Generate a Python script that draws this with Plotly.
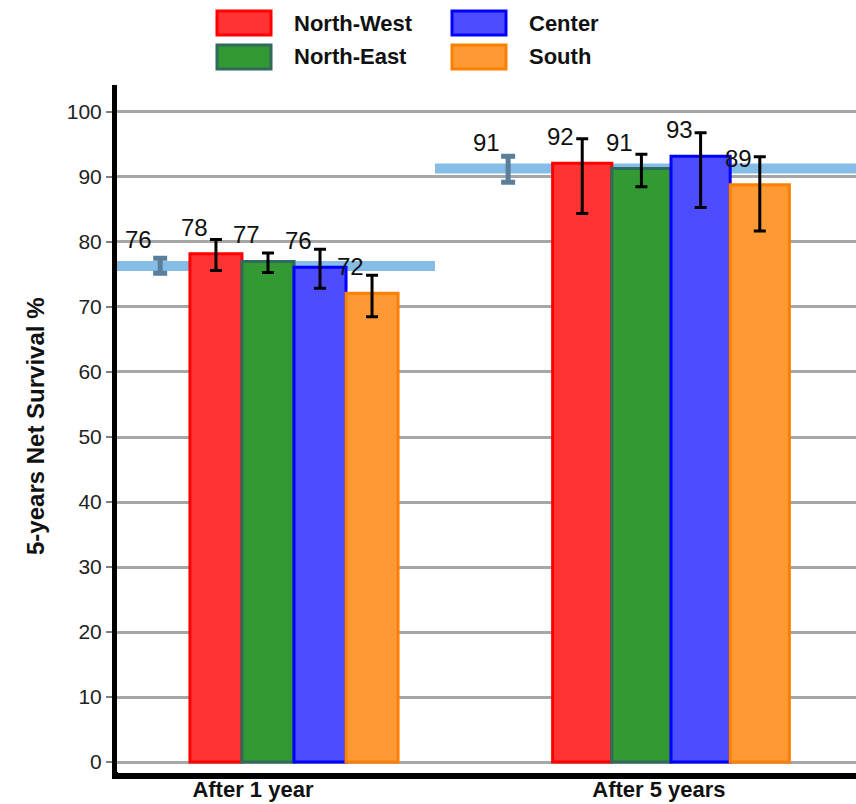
import plotly.graph_objects as go

# ---------------- data ----------------
CATEGORIES = ["After 1 year", "After 5 years"]
REGIONS = ["North-West", "North-East", "Center", "South"]

NW = [78.2, 92.1]
NW_LO = [75.6, 84.4]
NW_HI = [80.4, 95.9]

NE = [77.0, 91.3]
NE_LO = [75.3, 88.5]
NE_HI = [78.3, 93.5]

CE = [76.1, 93.2]
CE_LO = [72.9, 85.3]
CE_HI = [78.9, 96.8]

SO = [72.1, 88.8]
SO_LO = [68.5, 81.7]
SO_HI = [74.9, 93.1]

OVERALL = [76.3, 91.3]
OVERALL_LO = [75.2, 89.2]
OVERALL_HI = [77.5, 93.2]

Y_TICKS = [0, 10, 20, 30, 40, 50, 60, 70, 80, 90, 100]

# ---------------- styles / geometry ----------------
FILL = ["#ff3333", "#339933", "#4d4dff", "#ff9933"]
EDGE = ["#ff0000", "#2e6b5c", "#0000ff", "#ff8000"]
BAND_COLOR = "#85bde6"
WHISKER_COLOR = "#5b7f9b"
GRID = "#a6a6a6"
FONT = "Liberation Sans"

W, H = 856, 804
ML, MR, MT, MB = 117, 0, 85, 31
PLOT_W = W - ML - MR
PLOT_H = H - MT - MB
X_RANGE = [-0.4695, 1.4907]
Y_RANGE = [-1.69, 104.15]
BAR_W = [0.138, 0.157]          # bar width per group
WHISKER_OFF = [-0.355, -0.432]  # overall whisker offset from group centre
BAND_SPLIT = 0.374              # where the overall band changes level
TICK_OFF = [-0.109, -0.032]     # category label offset from group centre

series = [
    (NW, NW_LO, NW_HI),
    (NE, NE_LO, NE_HI),
    (CE, CE_LO, CE_HI),
    (SO, SO_LO, SO_HI),
]
groups = list(range(len(CATEGORIES)))


def px_x(px):
    return (px - ML) / PLOT_W


def px_y(py):
    return (H - MB - py) / PLOT_H


fig = go.Figure()
annotations = []
shapes = []

# overall band (behind bars, above grid)
band_x = [(X_RANGE[0], BAND_SPLIT), (BAND_SPLIT, X_RANGE[1])]
for g, v in zip(groups, OVERALL):
    shapes.append(dict(type="line", xref="x", yref="y", layer="between",
                       x0=band_x[g][0], x1=band_x[g][1], y0=v, y1=v,
                       line=dict(color=BAND_COLOR, width=10)))

LABEL_FONT = dict(family=FONT, size=24, color="#111")

# bars
for i, (name, (vals, lo, hi)) in enumerate(zip(REGIONS, series)):
    offsets = [-2 * w + i * w for w in BAR_W]
    fig.add_trace(go.Bar(
        name=name, x=groups, y=vals, width=BAR_W, offset=offsets,
        marker=dict(color=FILL[i], line=dict(color=EDGE[i], width=3)),
        error_y=dict(type="data", symmetric=False,
                     array=[h - v for h, v in zip(hi, vals)],
                     arrayminus=[v - l for v, l in zip(vals, lo)],
                     color="black", thickness=3, width=6),
        showlegend=False, hoverinfo="y",
    ))
    for g, v, off, w in zip(groups, vals, offsets, BAR_W):
        annotations.append(dict(
            x=g + off + w / 2, y=v, xref="x", yref="y", text=str(round(v)),
            showarrow=False, xanchor="right", yanchor="bottom",
            xshift=-6, yshift=11, font=LABEL_FONT))

# overall whisker
wx = [g + o for g, o in zip(groups, WHISKER_OFF)]
fig.add_trace(go.Scatter(
    x=wx, y=OVERALL, mode="markers", marker=dict(opacity=0, size=2),
    error_y=dict(type="data", symmetric=False,
                 array=[h - v for h, v in zip(OVERALL_HI, OVERALL)],
                 arrayminus=[v - l for v, l in zip(OVERALL, OVERALL_LO)],
                 color=WHISKER_COLOR, thickness=5, width=7),
    showlegend=False, hoverinfo="y",
))
for x, v in zip(wx, OVERALL):
    annotations.append(dict(
        x=x, y=v, xref="x", yref="y", text=str(round(v)),
        showarrow=False, xanchor="right", yanchor="bottom",
        xshift=-6, yshift=11, font=LABEL_FONT))

# manual legend (2 x 2)
legend_pos = [(217, 11), (217, 45), (452, 11), (452, 45)]
for i, name in enumerate(REGIONS):
    lx, ly = legend_pos[i]
    shapes.append(dict(type="rect", xref="paper", yref="paper",
                       x0=px_x(lx), x1=px_x(lx + 54),
                       y0=px_y(ly + 24), y1=px_y(ly),
                       fillcolor=FILL[i], line=dict(color=EDGE[i], width=3)))
    annotations.append(dict(
        x=px_x(lx + 75), y=px_y(ly + 12), xref="paper", yref="paper",
        text=name, showarrow=False, xanchor="left", yanchor="middle",
        font=dict(family=FONT, size=22, color="#111", weight="bold")))

# corner joint of the two axis lines
shapes.append(dict(type="rect", xref="paper", yref="paper", layer="above",
                   x0=px_x(112), x1=px_x(118), y0=px_y(779), y1=px_y(772),
                   fillcolor="black", line=dict(width=0)))

# y-axis title
annotations.append(dict(
    x=px_x(35), y=px_y(427), xref="paper", yref="paper",
    text="5-years Net Survival %", textangle=-90, showarrow=False,
    xanchor="center", yanchor="middle",
    font=dict(family=FONT, size=24, color="#111", weight="bold")))

fig.update_layout(
    width=W, height=H,
    margin=dict(l=ML, r=MR, t=MT, b=MB, pad=0),
    plot_bgcolor="white", paper_bgcolor="white",
    barmode="overlay",
    shapes=shapes, annotations=annotations,
    font=dict(family=FONT),
    xaxis=dict(range=X_RANGE, tickvals=[g + o for g, o in zip(groups, TICK_OFF)],
               ticktext=CATEGORIES, ticks="", showgrid=False, zeroline=False,
               showline=True, linecolor="black", linewidth=6,
               ticklabelstandoff=-8,
               tickfont=dict(family=FONT, size=22, color="#111", weight="bold")),
    yaxis=dict(range=Y_RANGE, tickvals=Y_TICKS, ticks="outside", ticklen=6,
               tickwidth=2, tickcolor="#808080", showgrid=True,
               gridcolor=GRID, gridwidth=3, zeroline=False,
               showline=True, linecolor="black", linewidth=5,
               tickfont=dict(family=FONT, size=21, color="#222")),
)

fig.write_html(
    "out.html",
    config={"displayModeBar": False},
    post_script="document.body.style.margin='0';document.body.style.overflow='hidden';",
)
